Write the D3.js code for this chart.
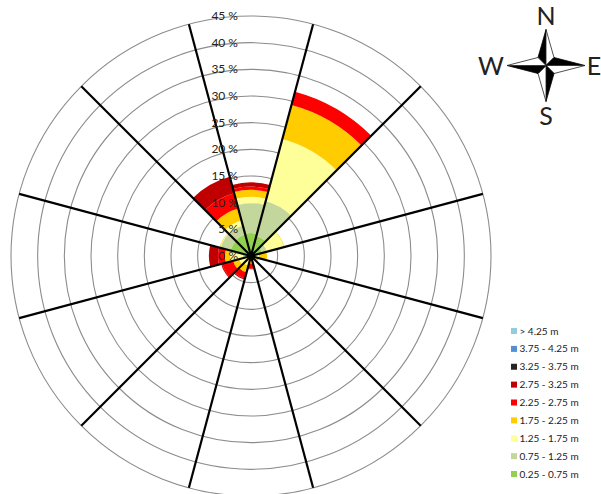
<!DOCTYPE html>
<html>
<head>
<meta charset="utf-8">
<style>
html, body { margin: 0; padding: 0; background: #fff; overflow: hidden; }
text { font-family: Lato, "Liberation Sans", sans-serif; }
</style>
<script src="https://cdn.jsdelivr.net/npm/d3@7"></script>
</head>
<body>
<svg></svg>
<script>
// direction bins, centred on N, going clockwise
let directions = [0, 30, 60, 90, 120, 150, 180, 210, 240, 270, 300, 330]

// frequency (%) of each wave height class per direction
let h025 = [4.3, 3.9, 2.2, 0.3, 0.2, 0.1, 0.1, 0.1, 0.2, 0.5, 4.0, 4.2]
let h075 = [5.6, 6.8, 0.9, 0.3, 0.2, 0.1, 0.1, 0.2, 0.4, 1.0, 1.9, 1.7]
let h125 = [1.2, 12.0, 3.3, 0.9, 0.4, 0.3, 0.4, 1.6, 1.7, 2.4, 0.1, 1.0]
let h175 = [1.3, 6.6, 0.1, 1.5, 0.7, 0.3, 0.8, 1.3, 1.2, 1.0, 0.1, 2.3]
let h225 = [0.6, 2.6, 0, 0, 0, 0, 1.0, 1.2, 2.1, 1.3, 0, 3.0]
let h275 = [0.8, 0, 0, 0, 0, 0, 0.1, 0.2, 0.2, 1.7, 0, 3.2]
let h325 = [0, 0, 0, 0, 0, 0, 0, 0, 0, 0, 0, 0]
let h375 = [0, 0, 0, 0, 0, 0, 0, 0, 0, 0, 0, 0]
let h425 = [0, 0, 0, 0, 0, 0, 0, 0, 0, 0, 0, 0]

let series = [h025, h075, h125, h175, h225, h275, h325, h375, h425]
let classLabels = ['0.25 - 0.75 m', '0.75 - 1.25 m', '1.25 - 1.75 m', '1.75 - 2.25 m', '2.25 - 2.75 m',
                   '2.75 - 3.25 m', '3.25 - 3.75 m', '3.75 - 4.25 m', '> 4.25 m']
let classColors = ['#92d050', '#c3d69b', '#ffff99', '#ffcc00', '#ff0000',
                   '#c00000', '#262626', '#558ed5', '#92cddc']
let ringTicks = [0, 5, 10, 15, 20, 25, 30, 35, 40, 45]

let w = 601
let h = 494
let cx = 251
let cy = 256
let outerRadius = 240

let svg = d3.select('svg')
    .attr('width', w)
    .attr('height', h)
    .style('display', 'block')

let rScale = d3.scaleLinear().domain([0, 45]).range([0, outerRadius])
let angleScale = d3.scaleLinear().domain([0, 360]).range([0, 2 * Math.PI])
let sectorWidth = 30

let rose = svg.append('g').attr('transform', 'translate(' + cx + ',' + cy + ')')

// rings
rose.selectAll('circle.ring')
    .data(ringTicks.slice(1))
    .enter()
    .append('circle')
    .attr('class', 'ring')
    .attr('r', (d) => rScale(d))
    .attr('fill', 'none')
    .attr('stroke', '#8c8c8c')
    .attr('stroke-width', 1.1)

// stacked wedges
let rows = directions.map((dir, i) => {
    let row = { dir: dir }
    series.forEach((s, k) => { row[k] = s[i] })
    return row
})
let stacked = d3.stack().keys(d3.range(series.length))(rows)
let arc = d3.arc()
    .innerRadius((d) => rScale(d[0]))
    .outerRadius((d) => rScale(d[1]))
    .startAngle((d) => angleScale(d.data.dir - sectorWidth / 2))
    .endAngle((d) => angleScale(d.data.dir + sectorWidth / 2))

rose.selectAll('g.layer')
    .data(stacked)
    .enter()
    .append('g')
    .attr('class', 'layer')
    .attr('fill', (d, i) => classColors[i])
    .selectAll('path')
    .data((d) => d.filter((v) => v[1] > v[0]))
    .enter()
    .append('path')
    .attr('d', arc)

// spokes between the sectors
rose.selectAll('line.spoke')
    .data(directions)
    .enter()
    .append('line')
    .attr('class', 'spoke')
    .attr('x1', 0)
    .attr('y1', 0)
    .attr('x2', (d) => outerRadius * Math.sin(angleScale(d + sectorWidth / 2)))
    .attr('y2', (d) => -outerRadius * Math.cos(angleScale(d + sectorWidth / 2)))
    .attr('stroke', '#000')
    .attr('stroke-width', 2.2)

// ring labels
rose.selectAll('text.tick')
    .data(ringTicks)
    .enter()
    .append('text')
    .attr('class', 'tick')
    .attr('x', -13)
    .attr('y', (d) => -rScale(d) + 4)
    .attr('text-anchor', 'end')
    .attr('font-size', 12)
    .attr('fill', '#222')
    .text((d) => d + ' %')

// legend, biggest class on top
let legendOrder = d3.range(series.length).reverse()
let legendY = d3.scalePoint().domain(legendOrder).range([331, 474])
let legend = svg.append('g')
legend.selectAll('rect')
    .data(legendOrder)
    .enter()
    .append('rect')
    .attr('x', 511)
    .attr('y', (d) => legendY(d) - 3)
    .attr('width', 6)
    .attr('height', 6)
    .attr('fill', (d) => classColors[d])
legend.selectAll('text')
    .data(legendOrder)
    .enter()
    .append('text')
    .attr('x', 519.5)
    .attr('y', (d) => legendY(d) + 3.5)
    .attr('font-size', 10)
    .attr('fill', '#222')
    .text((d) => classLabels[d])

// compass
let compass = svg.append('g').attr('transform', 'translate(546,65.5)')
let inner = 8
let points = [[0, 36], [90, 39], [180, 36], [270, 39]]
points.forEach((p) => {
    let g = compass.append('g').attr('transform', 'rotate(' + p[0] + ')')
    g.append('path')
        .attr('d', 'M0,0L0,' + (-p[1]) + 'L' + (-inner) + ',' + (-inner) + 'Z')
        .attr('fill', '#000')
        .attr('stroke', '#000')
        .attr('stroke-width', 0.8)
    g.append('path')
        .attr('d', 'M0,0L0,' + (-p[1]) + 'L' + inner + ',' + (-inner) + 'Z')
        .attr('fill', '#fff')
        .attr('stroke', '#222')
        .attr('stroke-width', 0.8)
})
let compassLabels = [['N', 546, 25], ['S', 546, 125], ['W', 491, 75], ['E', 594, 75]]
svg.selectAll('text.compass')
    .data(compassLabels)
    .enter()
    .append('text')
    .attr('class', 'compass')
    .attr('x', (d) => d[1])
    .attr('y', (d) => d[2])
    .attr('text-anchor', 'middle')
    .attr('font-size', 25)
    .attr('fill', '#222')
    .text((d) => d[0])
</script>
</body>
</html>
